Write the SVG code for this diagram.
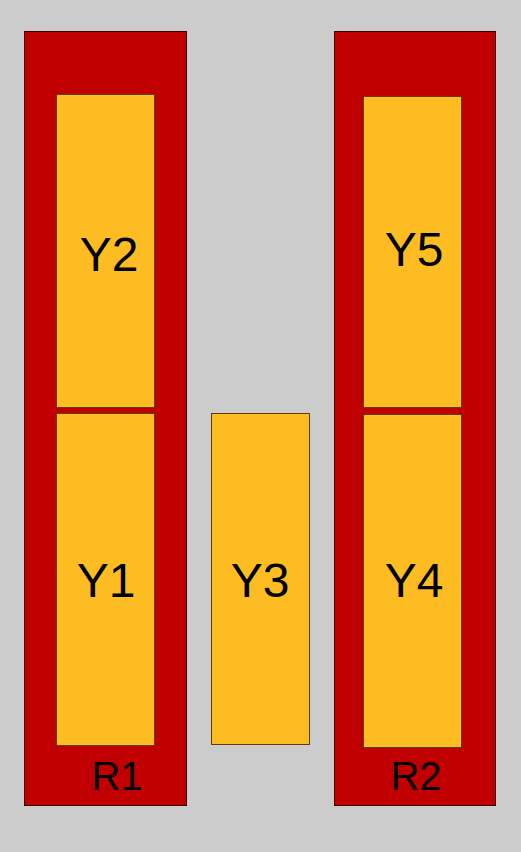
<svg xmlns="http://www.w3.org/2000/svg" width="521" height="852" viewBox="0 0 521 852">
<style>
.rack{fill:#C00000;stroke:#3a0000;stroke-width:1}
.box{fill:#FCBC22;stroke:#5a4010;stroke-width:1}
.lbl{font-family:"Liberation Sans",Arial,sans-serif;font-size:48px;fill:#000;text-anchor:middle}
.rl{font-family:"Liberation Sans",Arial,sans-serif;font-size:40px;fill:#000;text-anchor:middle}
</style>
<rect width="521" height="852" fill="#CCCCCC"/>
<g id="R1"><rect class="rack" x="24.5" y="31.5" width="162" height="774"/><text class="rl" x="117" y="790">R1</text></g>
<g id="R2"><rect class="rack" x="334.5" y="31.5" width="161" height="774"/><text class="rl" x="416" y="790">R2</text></g>
<g id="Y2"><rect class="box" x="56.5" y="94.5" width="98" height="313"/><text class="lbl" x="109" y="271">Y2</text></g>
<g id="Y1"><rect class="box" x="56.5" y="413.5" width="98" height="332"/><text class="lbl" x="106" y="597">Y1</text></g>
<g id="Y3"><rect class="box" x="211.5" y="413.5" width="98" height="331"/><text class="lbl" x="260" y="597">Y3</text></g>
<g id="Y5"><rect class="box" x="363.5" y="96.5" width="98" height="311"/><text class="lbl" x="414" y="266">Y5</text></g>
<g id="Y4"><rect class="box" x="363.5" y="414.5" width="98" height="333"/><text class="lbl" x="414" y="597">Y4</text></g>
<g id="connectors"/>
</svg>
